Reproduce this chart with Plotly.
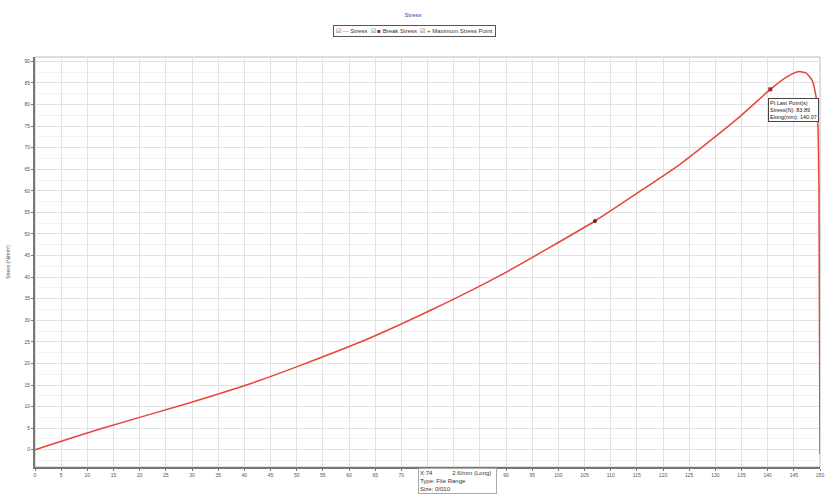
import plotly.graph_objects as go

# Curve (x: elongation, y: stress)
curve_x = [0, 12.4, 29.6, 41.1, 50.6, 64.0, 76.1, 88.9, 107.0, 115.0, 123.3, 134.7, 140.5, 143.5, 145.8, 147.3, 148.5, 149.4, 149.8, 150.0]
curve_y = [0, 4.8, 10.9, 15.3, 19.5, 25.9, 32.6, 40.4, 53.0, 59.4, 66.2, 77.2, 83.5, 86.3, 87.6, 87.3, 85.6, 80.6, 60.6, -1.0]

break_x = [140.5]
break_y = [83.5]
max_x = [107.0]
max_y = [53.0]

series_names = ["Stress", "Break Stress", "Maximum Stress Point"]
series_colors = ["#e8453c", "#b0202a", "#503030"]
x_ticks = list(range(0, 151, 5))
x_hidden = [75, 80, 85]  # labels covered by the info box in the original
y_ticks = list(range(0, 91, 5))

fig = go.Figure()
fig.add_trace(go.Scatter(x=curve_x, y=curve_y, mode="lines", name=series_names[0],
                         line=dict(color=series_colors[0], width=1.5, shape="spline", smoothing=0.6)))
fig.add_trace(go.Scatter(x=break_x, y=break_y, mode="markers", name=series_names[1],
                         marker=dict(color=series_colors[1], size=4, symbol="square")))
fig.add_trace(go.Scatter(x=max_x, y=max_y, mode="markers", name=series_names[2],
                         marker=dict(color=series_colors[2], size=4, symbol="circle")))

# compact legend box (as in the original)
legend_text = (
    f"☑ <span style='color:{series_colors[0]}'>—</span> {series_names[0]}&nbsp;&nbsp;"
    f"☑ <span style='color:{series_colors[1]}'>■</span> {series_names[1]}&nbsp;&nbsp;"
    f"☑ <span style='color:{series_colors[2]}'>+</span> {series_names[2]}"
)
fig.add_annotation(x=0.483, y=1.063, xref="paper", yref="paper", xanchor="center", yanchor="middle",
                   showarrow=False, text=legend_text,
                   font=dict(size=6, color="#333", family="Arial"),
                   bgcolor="white", bordercolor="#555", borderwidth=1, borderpad=2)

fig.add_annotation(x=1, y=break_y[0], xref="paper", yref="y", xanchor="right", yanchor="top",
                   xshift=-1, yshift=-9, showarrow=False, align="left",
                   text="Pt Last Point(s)<br>Stress(N): 83.89<br>Elong(mm): 140.07",
                   font=dict(size=5.5, color="#222", family="Arial"),
                   bgcolor="white", bordercolor="#444", borderwidth=1, borderpad=1)
fig.add_annotation(x=0.488, y=0, xref="paper", yref="paper", xanchor="left", yanchor="top",
                   yshift=-1, showarrow=False, align="left",
                   text="X:74&nbsp;&nbsp;&nbsp;&nbsp;&nbsp;&nbsp;&nbsp;&nbsp;&nbsp;&nbsp;&nbsp;&nbsp;2.6/mm (Long)&nbsp;&nbsp;<br>Type: File Range<br>Size: 0/010",
                   font=dict(size=6, color="#333", family="Arial"),
                   bgcolor="white", bordercolor="#aaa", borderwidth=1, borderpad=1)

fig.update_layout(
    width=826, height=495,
    margin=dict(l=35, r=6, t=57, b=28, autoexpand=False),
    paper_bgcolor="white", plot_bgcolor="white",
    title=dict(text="Stress", xref="container", x=0.5, xanchor="center",
               yref="container", y=0.975, yanchor="top",
               font=dict(size=6, color="#3a3acc", family="Arial")),
    showlegend=False,
)
fig.update_xaxes(range=[0, 150], tickvals=x_ticks,
                 ticktext=["" if v in x_hidden else str(v) for v in x_ticks],
                 automargin=False,
                 showgrid=True, gridcolor="#e2e2e2", gridwidth=1,
                 showline=True, linecolor="#777", linewidth=2, mirror=False,
                 ticks="outside", ticklen=2, tickcolor="#777",
                 tickfont=dict(size=5, color="#555", family="Arial"), zeroline=False)
fig.update_yaxes(range=[-4, 91], tickvals=y_ticks, ticktext=[str(v) for v in y_ticks],
                 automargin=False,
                 showgrid=True, gridcolor="#e2e2e2", gridwidth=1,
                 minor=dict(dtick=2.5, showgrid=True, gridcolor="#f2f2f2"),
                 showline=True, linecolor="#777", linewidth=2,
                 ticks="outside", ticklen=2, tickcolor="#777",
                 tickfont=dict(size=5, color="#555", family="Arial"), zeroline=False,
                 title=dict(text="Stress (N/mm²)", font=dict(size=5, color="#555", family="Arial"), standoff=14))
# light frame on top/right
fig.add_shape(type="rect", xref="paper", yref="paper", x0=0, y0=0, x1=1, y1=1,
              line=dict(color="#bbb", width=1), layer="below")

fig.write_html("out.html", config={"displayModeBar": False},
               post_script="document.body.style.margin='0';")
